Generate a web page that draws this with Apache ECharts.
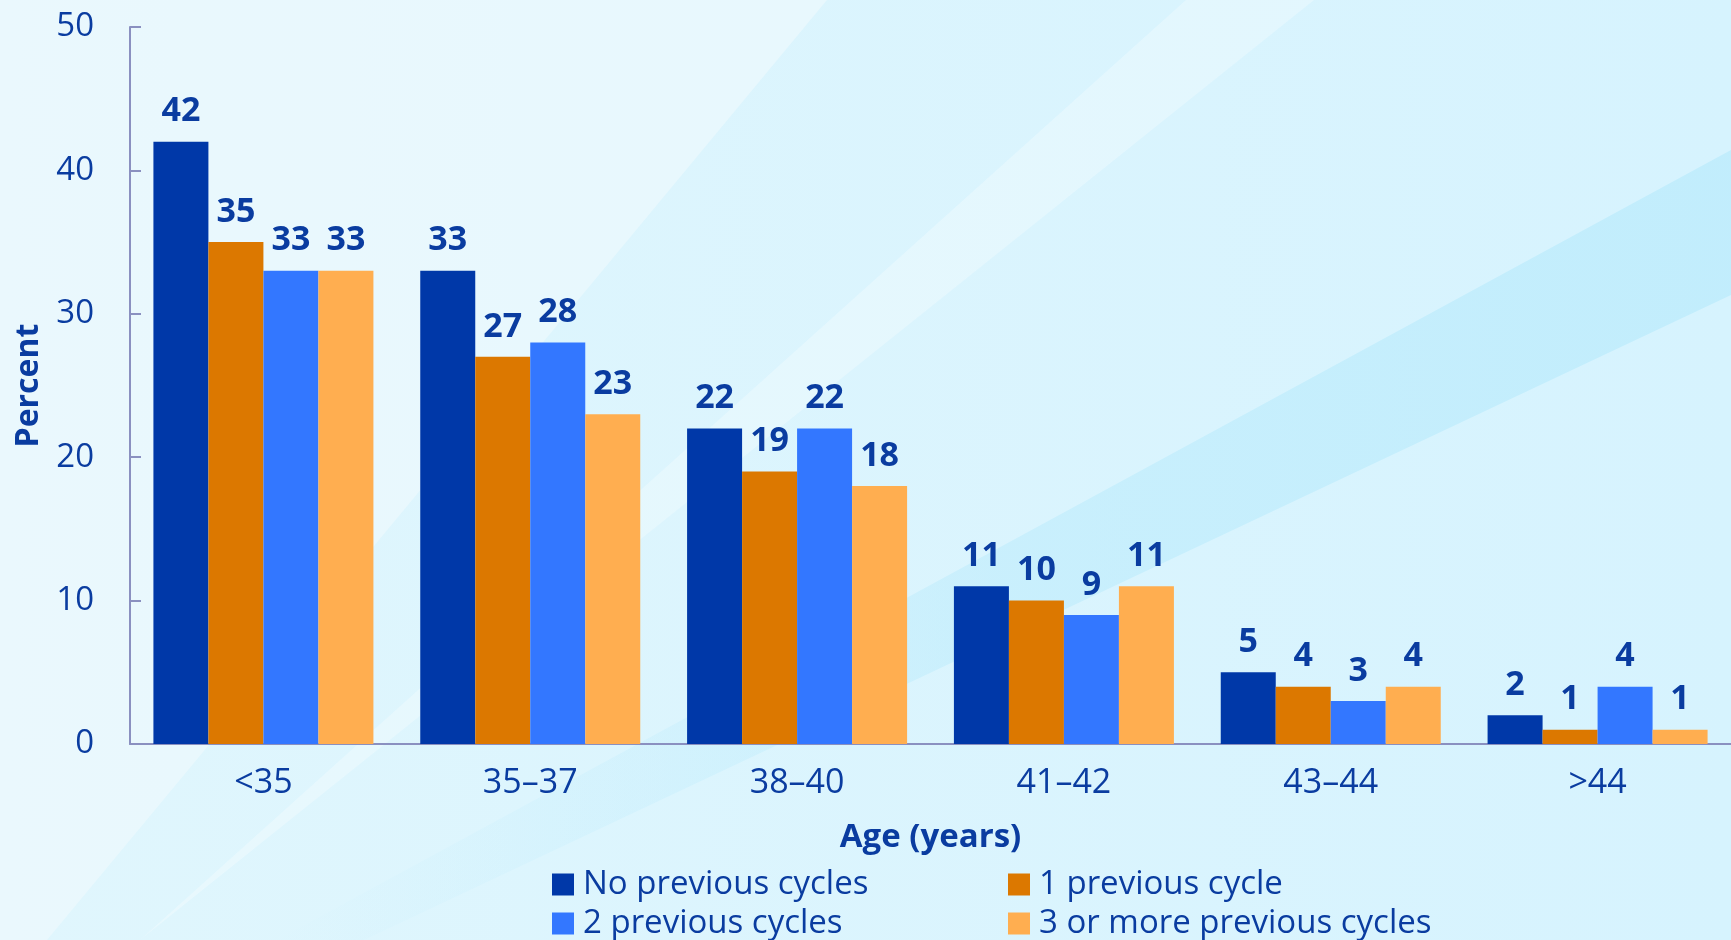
<!DOCTYPE html>
<html lang="en">

<head>
    <meta charset="UTF-8">
    <title>Percent by age and previous cycles</title>
    <style>
        html, body { margin: 0; padding: 0; }
        #chart { width: 1731px; height: 940px; }
    </style>
    <script src="https://cdn.jsdelivr.net/npm/echarts@6/dist/echarts.min.js"></script>
</head>

<body>
    <div id="chart"></div>
</body>
<script>
    // 数据
    var ageGroups = ['<35', '35–37', '38–40', '41–42', '43–44', '>44'];
    var noPrevious = [42, 33, 22, 11, 5, 2];
    var onePrevious = [35, 27, 19, 10, 4, 1];
    var twoPrevious = [33, 28, 22, 9, 3, 4];
    var threePlus = [33, 23, 18, 11, 4, 1];
    var seriesNames = ['No previous cycles', '1 previous cycle', '2 previous cycles', '3 or more previous cycles'];
    var seriesColors = ['#0038a8', '#dc7800', '#3377ff', '#ffae50'];

    var textColor = '#0a3ca0';
    var font = '"Open Sans", "Noto Sans", sans-serif';

    var chart = echarts.init(document.getElementById('chart'));

    function makeSeries(name, values, color) {
        return {
            name: name,
            type: 'bar',
            data: values,
            barWidth: 55,
            barGap: '0%',
            itemStyle: { color: color },
            label: {
                show: true,
                position: 'top',
                distance: 13,
                color: textColor,
                fontFamily: font,
                fontWeight: 'bold',
                fontSize: 34
            }
        };
    }

    function legendAt(name, left, top) {
        return {
            data: [name],
            left: left,
            top: top,
            itemWidth: 22,
            itemHeight: 22,
            itemGap: 0,
            icon: 'rect',
            padding: 0,
            selectedMode: false,
            textStyle: { color: textColor, fontFamily: font, fontSize: 33, padding: [0, 0, 0, 4] }
        };
    }

    var option = {
        animation: false,
        graphic: [
            // 背景
            {
                type: 'rect', z: -100, silent: true,
                shape: { x: 0, y: 0, width: 1731, height: 940 },
                style: {
                    fill: new echarts.graphic.LinearGradient(0, 0, 1, 0, [
                        { offset: 0, color: '#e0f6fd' },
                        { offset: 1, color: '#d6f3fe' }
                    ])
                }
            },
            {
                type: 'polygon', z: -99, silent: true,
                shape: { points: [[0, 0], [827, 0], [47, 940], [0, 940]] },
                style: { fill: 'rgba(240,250,254,0.6)' }
            },
            {
                type: 'polygon', z: -99, silent: true,
                shape: { points: [[1186, 0], [1314, 0], [140, 940]] },
                style: { fill: 'rgba(255,255,255,0.28)' }
            },
            {
                type: 'polygon', z: -99, silent: true,
                shape: { points: [[1731, 150], [277, 940], [364, 940], [1731, 295]] },
                style: {
                    fill: new echarts.graphic.LinearGradient(1, 0, 0, 0, [
                        { offset: 0, color: 'rgba(190,236,252,0.85)' },
                        { offset: 0.5, color: 'rgba(190,236,252,0.6)' },
                        { offset: 1, color: 'rgba(190,236,252,0)' }
                    ])
                }
            }
        ],
        color: seriesColors,
        legend: [
            legendAt(seriesNames[0], 552, 868),
            legendAt(seriesNames[1], 1008, 868),
            legendAt(seriesNames[2], 552, 907),
            legendAt(seriesNames[3], 1008, 907)
        ],
        grid: {
            left: 130,
            right: -9,
            top: 27,
            bottom: 196,
            containLabel: false
        },
        xAxis: {
            type: 'category',
            data: ageGroups,
            name: 'Age (years)',
            nameLocation: 'middle',
            nameGap: 77,
            nameTextStyle: { color: textColor, fontFamily: font, fontWeight: 'bold', fontSize: 33 },
            axisLine: { lineStyle: { color: '#8a90c0', width: 2 } },
            axisTick: { show: false },
            axisLabel: { color: textColor, fontFamily: font, fontSize: 34, margin: 22 }
        },
        yAxis: {
            type: 'value',
            min: 0,
            max: 50,
            interval: 10,
            name: 'Percent',
            nameLocation: 'middle',
            nameRotate: 90,
            nameGap: 84,
            nameTextStyle: { color: textColor, fontFamily: font, fontWeight: 'bold', fontSize: 32 },
            axisLine: { show: true, lineStyle: { color: '#8a90c0', width: 2 } },
            axisTick: { show: true, inside: true, length: 11, lineStyle: { color: '#8a90c0', width: 2 } },
            splitLine: { show: false },
            axisLabel: { color: textColor, fontFamily: font, fontSize: 33, margin: 36 }
        },
        series: [
            makeSeries(seriesNames[0], noPrevious, seriesColors[0]),
            makeSeries(seriesNames[1], onePrevious, seriesColors[1]),
            makeSeries(seriesNames[2], twoPrevious, seriesColors[2]),
            makeSeries(seriesNames[3], threePlus, seriesColors[3])
        ]
    };
    chart.setOption(option);
</script>

</html>
